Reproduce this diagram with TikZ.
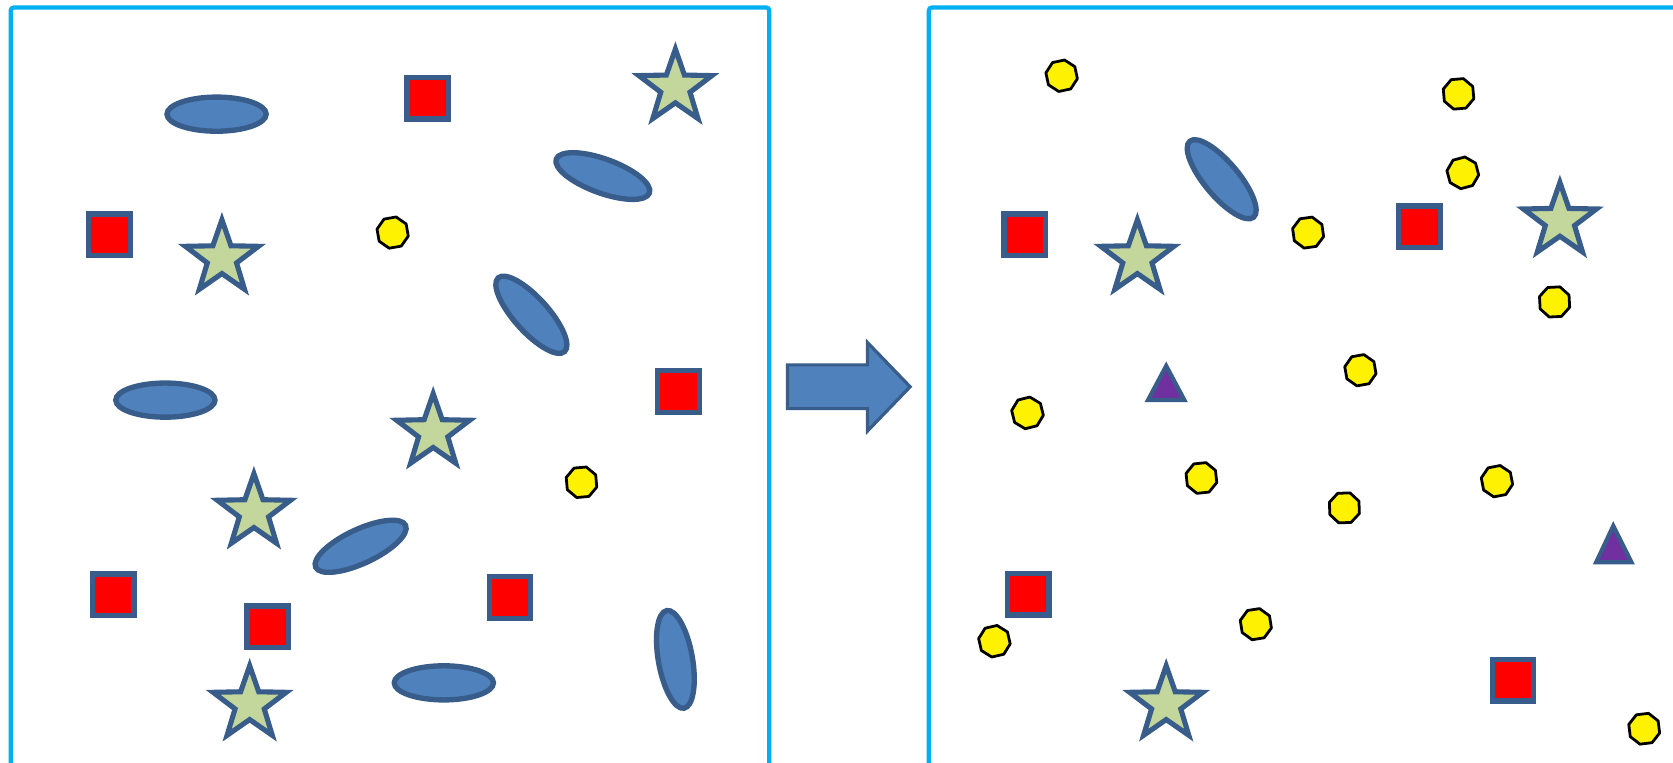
\documentclass[tikz,border=0pt]{standalone}
\usetikzlibrary{shapes.geometric}
\definecolor{bfill}{HTML}{4F81BD}
\definecolor{bline}{HTML}{385D8A}
\definecolor{sfill}{HTML}{C3D69B}
\definecolor{pfill}{HTML}{7030A0}
\definecolor{framec}{HTML}{00B0F0}
\begin{document}
\begin{tikzpicture}[x=0.5pt,y=-0.5pt,
  panel/.style={draw=framec, line width=2pt, rounded corners=1.5pt},
  blob/.style={ellipse, draw=bline, fill=bfill, line width=2.5pt, minimum width=46.5pt, minimum height=16pt, inner sep=0pt, outer sep=0pt},
  sq/.style={rectangle, draw=bline, fill=red, line width=2.5pt, minimum size=19.5pt, inner sep=0pt},
  starn/.style={star, star points=5, star point ratio=2.5, draw=bline, fill=sfill, line width=2.4pt, minimum size=36pt, inner sep=0pt},
  dotn/.style={regular polygon, regular polygon sides=8, draw=black, fill=yellow, line width=1.3pt, minimum size=15pt, inner sep=0pt, line join=round},
  tri/.style={draw=bline, fill=pfill, line width=2pt},
  bigarrow/.style={draw=bline, fill=bfill, line width=1.5pt}]
\useasboundingbox (0,0) rectangle (1568,715);
\clip (0,0) rectangle (1568,715);
% panels
\draw[panel] (10,7) rectangle (721,740);
\draw[panel] (870.5,7) rectangle (1600,740);
% arrow
\draw[bigarrow] (738,342) -- (813,342) -- (813,321) -- (853,362.5) -- (813,404) -- (813,383) -- (738,383) -- cycle;
% left panel: ellipses
\node[blob] (e1) at (203,107) {};
\node[blob, rotate=-20] (e2) at (565,165) {};
\node[blob, rotate=-48] (e3) at (498,295) {};
\node[blob] (e4) at (155,375) {};
\node[blob, rotate=25] (e5) at (338,512) {};
\node[blob] (e6) at (416,640) {};
\node[blob, rotate=-80] (e7) at (633,618) {};
% left panel: squares
\node[sq] (s1) at (401,92) {};
\node[sq] (s2) at (102.5,220) {};
\node[sq] (s3) at (636,367) {};
\node[sq] (s4) at (106,557.5) {};
\node[sq] (s5) at (251,587.5) {};
\node[sq] (s6) at (478,560) {};
% left panel: stars
\node[starn] (t1) at (633,82) {};
\node[starn] (t2) at (208,242) {};
\node[starn] (t3) at (406,405) {};
\node[starn] (t4) at (238,480) {};
\node[starn] (t5) at (234,660) {};
% left panel: dots
\node[dotn, rotate=10] (d1) at (368,218) {};
\node[dotn, rotate=5] (d2) at (545,452) {};
% right panel
\node[blob, rotate=-50] (e8) at (1145,168) {};
\node[sq] (s7) at (960.5,220) {};
\node[sq] (s8) at (1330.5,212.5) {};
\node[sq] (s9) at (963.5,557) {};
\node[sq] (s10) at (1418,637.5) {};
\node[starn] (t6) at (1066,242) {};
\node[starn] (t7) at (1462,207) {};
\node[starn] (t8) at (1093,660) {};
\node[dotn, rotate=12] (d3) at (995,71) {};
\node[dotn, rotate=5] (d4) at (1367,88) {};
\node[dotn, rotate=15] (d5) at (1371,162) {};
\node[dotn, rotate=8] (d6) at (1226,218) {};
\node[dotn, rotate=3] (d7) at (1457,283) {};
\node[dotn, rotate=10] (d8) at (1275,347) {};
\node[dotn, rotate=14] (d9) at (963,387) {};
\node[dotn, rotate=6] (d10) at (1126,448) {};
\node[dotn, rotate=11] (d11) at (1403,451) {};
\node[dotn, rotate=2] (d12) at (1260,476) {};
\node[dotn, rotate=9] (d13) at (1177,585) {};
\node[dotn, rotate=13] (d14) at (932,601) {};
\node[dotn, rotate=7] (d15) at (1541,683) {};
\draw[tri] (1093,343) -- (1110,375) -- (1076,375) -- cycle;
\draw[tri] (1512,493) -- (1529,527) -- (1496,527) -- cycle;
\end{tikzpicture}
\end{document}
